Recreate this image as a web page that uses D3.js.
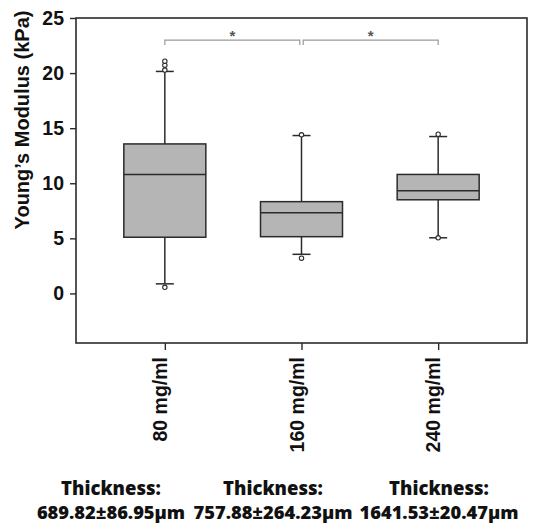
<!DOCTYPE html>
<html>
<head>
<meta charset="utf-8">
<script src="https://cdn.jsdelivr.net/npm/d3@7"></script>
<style>
  body { margin: 0; background: #fff; }
  svg { display: block; }
</style>
</head>
<body>
<div id="chart"></div>
<script>
var categories = ["80 mg/ml", "160 mg/ml", "240 mg/ml"],
    q1 = [5.1, 5.15, 8.5],
    median = [10.8, 7.33, 9.33],
    q3 = [13.57, 8.33, 10.8],
    whiskerLow = [0.87, 3.55, 5.05],
    whiskerHigh = [20.15, 14.33, 14.24],
    outliers = [[20.27, 20.72, 21.08, 0.55], [14.4, 3.2], [14.45, 5.05]],
    yTicks = [0, 5, 10, 15, 20, 25],
    sigPairs = [[0, 1], [1, 2]],
    sigLevel = 23.0,
    thicknessLabels = ["689.82±86.95μm", "757.88±264.23μm", "1641.53±20.47μm"];

var W = 549, H = 525,
    margin = {top: 18, right: 22, bottom: 182, left: 76},
    dark = '#2b2b2b',
    axisFont = 'Liberation Sans, Arial, sans-serif';

var svg = d3.select('#chart').append('svg')
    .attr('width', W)
    .attr('height', H);

var x = d3.scalePoint()
    .domain(categories)
    .range([margin.left, W - margin.right])
    .padding(0.65);

var y = d3.scaleLinear()
    .domain([-4.5, 25])
    .range([H - margin.bottom, margin.top]);

var boxW = x.step() * 0.6,
    capW = 18;

// frame
svg.append('rect')
    .attr('x', margin.left)
    .attr('y', margin.top)
    .attr('width', W - margin.left - margin.right)
    .attr('height', H - margin.top - margin.bottom)
    .attr('fill', 'none')
    .attr('stroke', dark)
    .attr('stroke-width', 1.6);

// y axis
var yAxis = svg.append('g')
    .attr('transform', 'translate(' + margin.left + ',0)')
    .call(d3.axisLeft(y).tickValues(yTicks).tickSize(6).tickPadding(6));
yAxis.select('.domain').remove();
yAxis.selectAll('line').attr('stroke', dark).attr('stroke-width', 1.4);
yAxis.selectAll('text')
    .attr('font-family', axisFont)
    .attr('font-weight', 'bold')
    .attr('font-size', 19.5)
    .attr('fill', '#111');

// x axis
var xAxis = svg.append('g')
    .attr('transform', 'translate(0,' + (H - margin.bottom) + ')')
    .call(d3.axisBottom(x).tickSize(7).tickPadding(10));
xAxis.select('.domain').remove();
xAxis.selectAll('line').attr('stroke', dark).attr('stroke-width', 1.4);
xAxis.selectAll('text')
    .attr('font-family', axisFont)
    .attr('font-weight', 'bold')
    .attr('font-size', 19.5)
    .attr('fill', '#111')
    .attr('text-anchor', 'end')
    .attr('transform', 'rotate(-90)')
    .attr('x', -14)
    .attr('y', -5)
    .attr('dy', '0.35em');

// y label
svg.append('text')
    .attr('transform', 'translate(29,120) rotate(-90)')
    .attr('text-anchor', 'middle')
    .attr('font-family', axisFont)
    .attr('font-weight', 'bold')
    .attr('font-size', 20)
    .attr('fill', '#111')
    .text('Young\u2019s Modulus (kPa)');

// boxes
var boxes = svg.append('g').selectAll('g')
    .data(categories)
    .enter().append('g');

boxes.append('line')
    .attr('x1', function(d) { return x(d); })
    .attr('x2', function(d) { return x(d); })
    .attr('y1', function(d, i) { return y(whiskerHigh[i]); })
    .attr('y2', function(d, i) { return y(whiskerLow[i]); })
    .attr('stroke', dark)
    .attr('stroke-width', 1.5);

boxes.append('rect')
    .attr('x', function(d) { return x(d) - boxW / 2; })
    .attr('y', function(d, i) { return y(q3[i]); })
    .attr('width', boxW)
    .attr('height', function(d, i) { return y(q1[i]) - y(q3[i]); })
    .attr('fill', '#b5b5b5')
    .attr('stroke', dark)
    .attr('stroke-width', 1.5);

boxes.append('line')
    .attr('x1', function(d) { return x(d) - boxW / 2; })
    .attr('x2', function(d) { return x(d) + boxW / 2; })
    .attr('y1', function(d, i) { return y(median[i]); })
    .attr('y2', function(d, i) { return y(median[i]); })
    .attr('stroke', dark)
    .attr('stroke-width', 1.5);

[whiskerHigh, whiskerLow].forEach(function(arr) {
    boxes.append('line')
        .attr('x1', function(d) { return x(d) - capW / 2; })
        .attr('x2', function(d) { return x(d) + capW / 2; })
        .attr('y1', function(d, i) { return y(arr[i]); })
        .attr('y2', function(d, i) { return y(arr[i]); })
        .attr('stroke', dark)
        .attr('stroke-width', 1.5);
});

boxes.each(function(d, i) {
    d3.select(this).selectAll('circle')
        .data(outliers[i])
        .enter().append('circle')
        .attr('cx', x(d))
        .attr('cy', function(v) { return y(v); })
        .attr('r', 2.2)
        .attr('fill', '#fff')
        .attr('stroke', dark)
        .attr('stroke-width', 1.1);
});

// significance brackets
var sig = svg.append('g');
sigPairs.forEach(function(p, k) {
    var xa = x(categories[p[0]]) + (k === 1 ? 1.7 : 0),
        xb = x(categories[p[1]]) - (k === 0 ? 1.7 : 0),
        yy = y(sigLevel);
    sig.append('path')
        .attr('d', 'M' + xa + ',' + (yy + 5) + 'V' + yy + 'H' + xb + 'V' + (yy + 5))
        .attr('fill', 'none')
        .attr('stroke', '#9a9a9a')
        .attr('stroke-width', 1.2);
    sig.append('text')
        .attr('x', (xa + xb) / 2)
        .attr('y', yy + 1)
        .attr('text-anchor', 'middle')
        .attr('font-family', axisFont)
        .attr('font-weight', 'bold')
        .attr('font-size', 15)
        .attr('fill', '#555')
        .text('*');
});

// thickness notes under the categories
var noteX = [111, 273, 439];
var notes = svg.append('g')
    .attr('font-family', 'Open Sans, Noto Sans, sans-serif')
    .attr('font-weight', 800)
    .attr('fill', '#111')
    .attr('text-anchor', 'middle');
thicknessLabels.forEach(function(t, i) {
    notes.append('text')
        .attr('x', noteX[i])
        .attr('y', 495)
        .attr('font-size', 18.5)
        .text('Thickness:');
    notes.append('text')
        .attr('x', noteX[i])
        .attr('y', 519)
        .attr('font-size', 18.3)
        .text(t);
});
</script>
</body>
</html>
